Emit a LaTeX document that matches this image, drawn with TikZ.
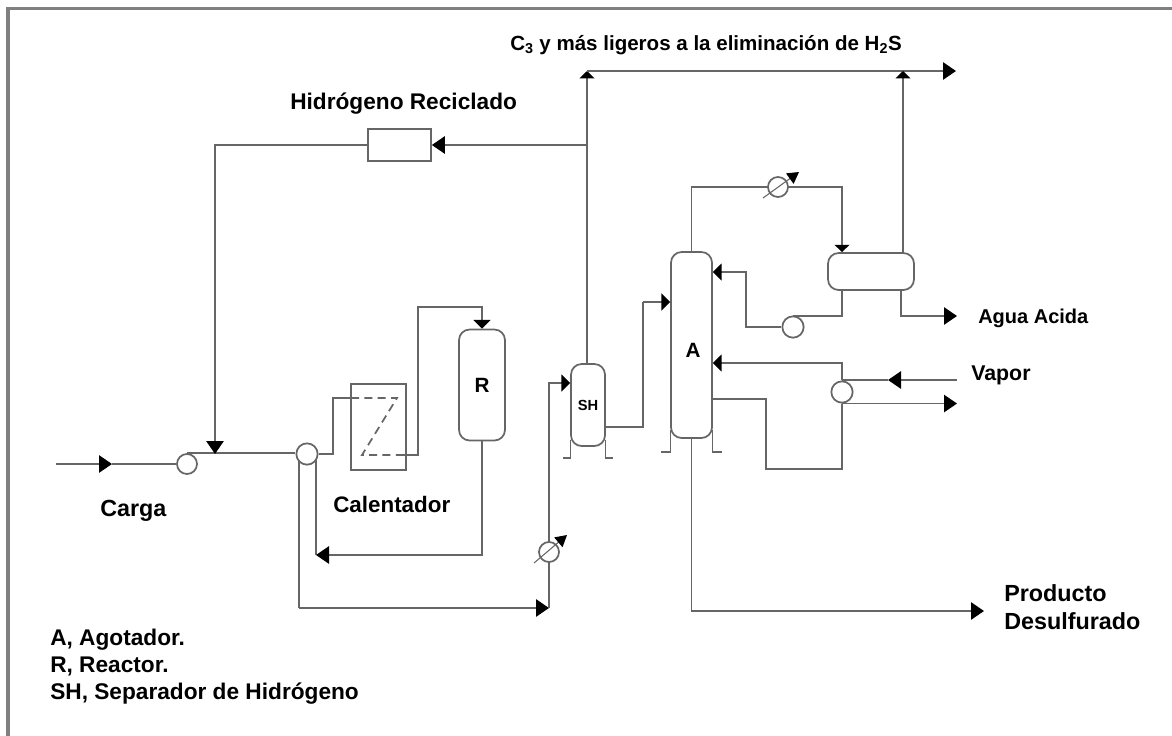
\documentclass[tikz,border=0pt]{standalone}
\usepackage{fontspec}
\setmainfont{Liberation Sans}
\usetikzlibrary{arrows.meta}
\begin{document}
\begin{tikzpicture}[
            x=0.75pt, y=-0.75pt,
            pipe/.style={line width=1.3pt, draw=black!60},
            arr/.style={pipe, -{Triangle[length=9.75pt, width=13pt, fill=black, color=black]}},
            smallarr/.style={pipe, -{Triangle[length=6.5pt, width=12.5pt, fill=black, color=black]}},
            toparr/.style={pipe, -{Triangle[length=5.5pt, width=11pt, fill=black, color=black]}},
            dial/.style={pipe, line width=0.8pt, -{Triangle[length=8.5pt, width=9.5pt, fill=black, color=black]}},
            skirt/.style={pipe, line width=0.9pt},
            vessel/.style={draw=black!60, line width=1.3pt, rounded corners=8pt, fill=white, inner sep=0pt, font=\bfseries\fontsize{15.5pt}{17pt}\selectfont},
            plainbox/.style={draw=black!60, line width=1.3pt, inner sep=0pt},
            pump/.style={circle, draw=black!60, line width=1.3pt, fill=white, inner sep=0pt},
            exch/.style={pump, minimum size=15pt},
            lbl/.style={align=left, anchor=west, inner sep=0pt, font=\bfseries\fontsize{#1}{21pt}\selectfont}
        ]
            \useasboundingbox (0,0) rectangle (1172,736);
            \coordinate (framebl) at (8,736);
            \coordinate (frametl) at (8,8.5);
            \coordinate (frametr) at (1172,8.5);
            \draw[draw=black!50, line width=2.8pt] (framebl) -- (frametl) -- (frametr);

            % coordinates
            \coordinate (feedin) at (56,464);
            \coordinate (feedmid) at (112,464);
            \coordinate (joinrec) at (215,454);
            \coordinate (rectop) at (215,145);
            \coordinate (tee) at (587,145);
            \coordinate (gastop) at (587,71);
            \coordinate (gasout) at (956,71);
            \coordinate (drumtop) at (903,71);

            % equipment
            \node[plainbox, minimum width=47.25pt, minimum height=24pt] (recbox) at (399.5,145) {};
            \node[plainbox, minimum width=41.25pt, minimum height=64.5pt] (heater) at (378.5,427) {};
            \node[vessel, minimum width=34.5pt, minimum height=83.25pt] (reactor) at (482,385) {R};
            \node[vessel, minimum width=25.5pt, minimum height=61.5pt, font=\bfseries\fontsize{11pt}{12pt}\selectfont] (sep) at (588,405) {SH};
            \node[vessel, minimum width=30.75pt, minimum height=139.5pt] (strip) at (691.5,345) {};
            \node[font=\bfseries\fontsize{15.5pt}{17pt}\selectfont, inner sep=0pt] (striplbl) at (693,350) {A};
            \node[vessel, minimum width=64.5pt, minimum height=27.75pt] (drum) at (871,271.5) {};
            \node[pump, minimum size=15pt] (pumpa) at (187,464) {};
            \node[pump, minimum width=14pt, minimum height=16pt] (pumpb) at (307,454) {};
            \node[pump, minimum size=16pt] (pumpc) at (793,327) {};
            \node[pump, minimum size=16pt] (reboil) at (842,392) {};

            % feed
            \draw[arr] (feedin) -- (feedmid);
            \draw[pipe] (feedmid) -- (pumpa.west);
            \draw[pipe] (pumpa.north) -- (pumpb.west |- pumpa.north);
            \draw[arr] (recbox.west) -- (rectop) -- (joinrec);
            \draw[arr] (tee) -- (recbox.east);
            \draw[toparr] (gastop |- sep.north) -- (gastop);
            \draw[arr] (gastop) -- (gasout);
            \draw[toparr] (drum.north -| drumtop) -- (drumtop);

            % heater and reactor
            \coordinate (coilin) at (333,398);
            \coordinate (coilout) at (418,455);
            \draw[pipe] (pumpb.east) -- (333,454) -- (coilin) -- (351,398);
            \draw[pipe, dash pattern=on 6pt off 4pt] (351,398) -- (397,398) -- (362,455) -- (403,455);
            \draw[smallarr] (403,455) -- (coilout) -- (418,307) -- (reactor.north |- 0,307) -- (reactor.north);
            \coordinate (backtee) at (316,555);
            \draw[pipe] (316,460) -- (backtee);
            \draw[arr] (reactor.south) |- (backtee);

            % separator
            \coordinate (bypass) at (549,608);
            \draw[pipe] (299,460) -- (299,608);
            \draw[arr] (299,608) -- (bypass);
            \draw[smallarr] (bypass) -- (549,383) -- (sep.west |- 0,383);
            \node[exch] (cooler) at (549,552) {};
            \draw[dial] (534,563) -- (567,535);
            \draw[pipe] (sep.east |- 0,427) -- (643,427) -- (643,302);
            \draw[smallarr] (643,302) -- (strip.west |- 0,302);
            \draw[skirt] (sep.west |- 0,440) -- (sep.west |- 0,458) -- (563,458);
            \draw[skirt] (sep.east |- 0,440) -- (sep.east |- 0,458) -- (613,458);

            % stripper
            \draw[skirt] (strip.west |- 0,430) -- (strip.west |- 0,452) -- (661,452);
            \draw[skirt] (strip.east |- 0,430) -- (strip.east |- 0,452) -- (722,452);
            \draw[toparr] (strip.north) -- (691.5,187) -- (842,187) -- (drum.north -| 842,0);
            \node[exch] (conden) at (778,187) {};
            \draw[dial] (763,198) -- (799,172);
            \draw[pipe] (842,290) -- (842,316) -- (793,316);
            \draw[smallarr] (pumpc.west) -- (pumpc.west -| 746,0) -- (746,272) -- (strip.east |- 0,272);
            \draw[arr] (901,290) -- (901,316) -- (957,316);
            \draw[smallarr] (reboil.north) -- (842,363) -- (strip.east |- 0,363);
            \draw[arr] (957,380) -- (888,380);
            \draw[pipe] (888,380) -- (842,380);
            \draw[arr] (reboil.south) -- (reboil.south -| 957,0);
            \draw[pipe] (strip.east |- 0,399) -- (766,399) -- (766,469) -- (842,469) -- (reboil.south);
            \draw[arr] (strip.south) -- (691.5,611) -- (984,611);

            % labels
            \node[lbl=15.4pt] (lbltop) at (510,45) {C\textsubscript{3} y más ligeros a la eliminación de  H\textsubscript{2}S};
            \node[lbl=17pt] (lblrec) at (290,104) {Hidrógeno  Reciclado};
            \node[lbl=17.5pt] (lblcarga) at (100,511) {Carga};
            \node[lbl=16.8pt] (lblcalen) at (333,504) {Calentador};
            \node[lbl=15pt] (lblagua) at (978,318) {Agua Acida};
            \node[lbl=16pt] (lblvapor) at (971,375) {Vapor};
            \node[lbl=17.5pt] (lblprod) at (1004,607) {Producto\\Desulfurado};
            \node[lbl=17pt, font=\bfseries\fontsize{17pt}{20.25pt}\selectfont] (lbllist) at (50,667) {A, Agotador.\\R, Reactor.\\SH, Separador de Hidrógeno};
        \end{tikzpicture}
\end{document}
